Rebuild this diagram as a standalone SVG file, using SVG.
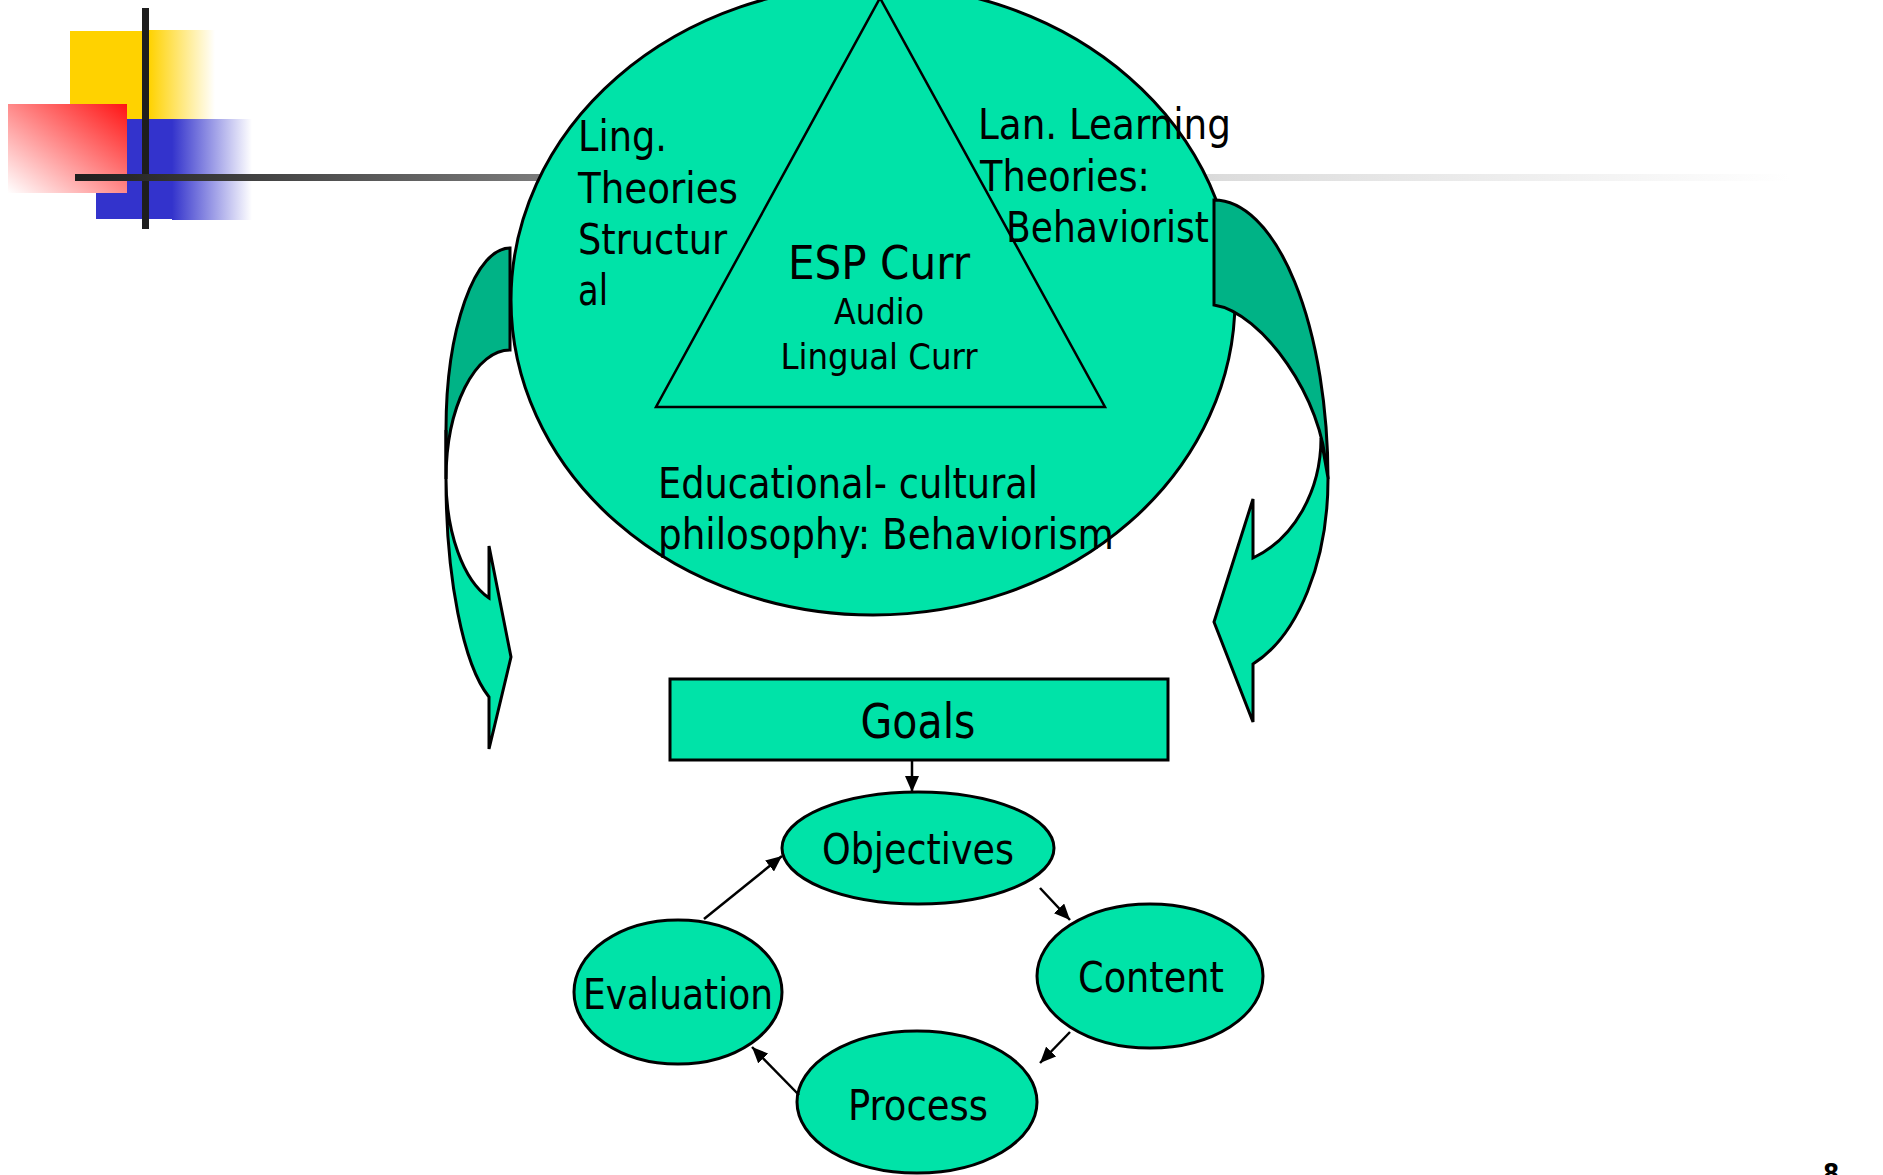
<svg xmlns="http://www.w3.org/2000/svg" width="1883" height="1175" viewBox="0 0 1883 1175">
<defs>
<style>
.node{fill:#00E3A8;stroke:#000;stroke-width:3}
.back{fill:#00B386;stroke:#000;stroke-width:3;stroke-linejoin:miter}
.front{fill:#00E3A8;stroke:#000;stroke-width:3;stroke-linejoin:miter}
.lbl{font-family:"DejaVu Sans Condensed","DejaVu Sans",sans-serif;fill:#000}
.conn{stroke:#000;stroke-width:2.5;fill:none;marker-end:url(#ah)}
</style>
<linearGradient id="yf" x1="0" y1="0" x2="1" y2="0"><stop offset="0" stop-color="#FFD200"/><stop offset="1" stop-color="#FFFFFF"/></linearGradient>
<linearGradient id="bf" x1="0" y1="0" x2="1" y2="0"><stop offset="0" stop-color="#3333CC"/><stop offset="1" stop-color="#FFFFFF"/></linearGradient>
<linearGradient id="rf" x1="1" y1="0" x2="0" y2="1"><stop offset="0" stop-color="#FF1414"/><stop offset="1" stop-color="#FFFFFF"/></linearGradient>
<linearGradient id="lf" gradientUnits="userSpaceOnUse" x1="75" y1="0" x2="1790" y2="0"><stop offset="0" stop-color="#1e1e1e"/><stop offset="0.27" stop-color="#7a7a7a"/><stop offset="0.67" stop-color="#dcdcdc"/><stop offset="1" stop-color="#ffffff"/></linearGradient>
<marker id="ah" markerUnits="userSpaceOnUse" markerWidth="16" markerHeight="14" refX="16" refY="7" orient="auto"><path d="M0,0 L16,7 L0,14 Z" fill="#000"/></marker>
</defs>
<rect width="1883" height="1175" fill="#fff"/>
<g id="decoration">
<rect x="70" y="31" width="80" height="88" fill="#FFD200"/>
<rect x="149" y="30" width="66" height="89" fill="url(#yf)"/>
<rect x="96" y="119" width="77" height="100" fill="#3333CC"/>
<rect x="172" y="119" width="80" height="101" fill="url(#bf)"/>
<rect x="8" y="104" width="119" height="89" fill="url(#rf)"/>
<rect x="142" y="8" width="7" height="221" fill="#1e1e1e"/>
<rect x="75" y="174" width="1715" height="7" fill="url(#lf)"/>
</g>
<g id="esp-curr">
<ellipse class="node" cx="873" cy="300" rx="362" ry="315"/>
<path d="M880,-2 L656,407 L1105,407 Z" fill="none" stroke="#000" stroke-width="2.5"/>
<text class="lbl" x="879" y="279" font-size="47" text-anchor="middle" textLength="182" lengthAdjust="spacingAndGlyphs">ESP Curr</text>
<text class="lbl" x="879" y="324" font-size="35" text-anchor="middle" textLength="90" lengthAdjust="spacingAndGlyphs">Audio</text>
<text class="lbl" x="879" y="369" font-size="35" text-anchor="middle" textLength="197" lengthAdjust="spacingAndGlyphs">Lingual Curr</text>
</g>
<g id="ling-theories">
<text class="lbl" x="578" y="151" font-size="42" textLength="89" lengthAdjust="spacingAndGlyphs">Ling.</text>
<text class="lbl" x="578" y="203" font-size="42" textLength="160" lengthAdjust="spacingAndGlyphs">Theories</text>
<text class="lbl" x="578" y="254" font-size="42" textLength="149" lengthAdjust="spacingAndGlyphs">Structur</text>
<text class="lbl" x="578" y="305" font-size="42" textLength="30" lengthAdjust="spacingAndGlyphs">al</text>
</g>
<g id="lan-learning">
<text class="lbl" x="978" y="139" font-size="42" textLength="253" lengthAdjust="spacingAndGlyphs">Lan. Learning</text>
<text class="lbl" x="980" y="191" font-size="42" textLength="170" lengthAdjust="spacingAndGlyphs">Theories:</text>
<text class="lbl" x="1006" y="242" font-size="42" textLength="203" lengthAdjust="spacingAndGlyphs">Behaviorist</text>
</g>
<g id="philosophy">
<text class="lbl" x="658" y="498" font-size="42" textLength="380" lengthAdjust="spacingAndGlyphs">Educational- cultural</text>
<text class="lbl" x="658" y="549" font-size="42" textLength="456" lengthAdjust="spacingAndGlyphs">philosophy: Behaviorism</text>
</g>
<g id="curved-arrows">
<path class="back" d="M510,248 A64,182 0 0 0 446,430 L446,479 A64,129 0 0 1 510,350 Z"/>
<path class="front" d="M446,430 L446,480 A64,230 0 0 0 489,697 L489,749 L511,657 L489,546 L489,598 A64,126 0 0 1 446,479 Z"/>
<path class="back" d="M1214,200 A114,279 0 0 1 1328,479 L1326,470 C1324,400 1262,312 1214,305 Z"/>
<path class="front" d="M1321,438 A107,129 0 0 1 1253,558 L1253,499 L1214,622 L1253,722 L1253,664 A114,197 0 0 0 1328,478 Z"/>
</g>
<g id="goals">
<rect class="node" x="670" y="679" width="498" height="81"/>
<text class="lbl" x="918" y="738" font-size="48" text-anchor="middle" textLength="115" lengthAdjust="spacingAndGlyphs">Goals</text>
</g>
<g id="objectives">
<ellipse class="node" cx="918" cy="848" rx="136" ry="56"/>
<text class="lbl" x="918" y="864" font-size="42" text-anchor="middle" textLength="192" lengthAdjust="spacingAndGlyphs">Objectives</text>
</g>
<g id="content">
<ellipse class="node" cx="1150" cy="976" rx="113" ry="72"/>
<text class="lbl" x="1151" y="992" font-size="42" text-anchor="middle" textLength="146" lengthAdjust="spacingAndGlyphs">Content</text>
</g>
<g id="process">
<ellipse class="node" cx="917" cy="1102" rx="120" ry="71"/>
<text class="lbl" x="918" y="1120" font-size="42" text-anchor="middle" textLength="140" lengthAdjust="spacingAndGlyphs">Process</text>
</g>
<g id="evaluation">
<ellipse class="node" cx="678" cy="992" rx="104" ry="72"/>
<text class="lbl" x="678" y="1009" font-size="42" text-anchor="middle" textLength="190" lengthAdjust="spacingAndGlyphs">Evaluation</text>
</g>
<g id="connectors">
<line class="conn" x1="912" y1="760" x2="912" y2="792"/>
<line class="conn" x1="1040" y1="888" x2="1070" y2="920"/>
<line class="conn" x1="1070" y1="1032" x2="1040" y2="1063"/>
<line class="conn" x1="799" y1="1095" x2="752" y2="1047"/>
<line class="conn" x1="704" y1="919" x2="782" y2="856"/>
</g>
<text class="lbl" x="1823" y="1183" font-size="26" font-weight="bold">8</text>
</svg>
